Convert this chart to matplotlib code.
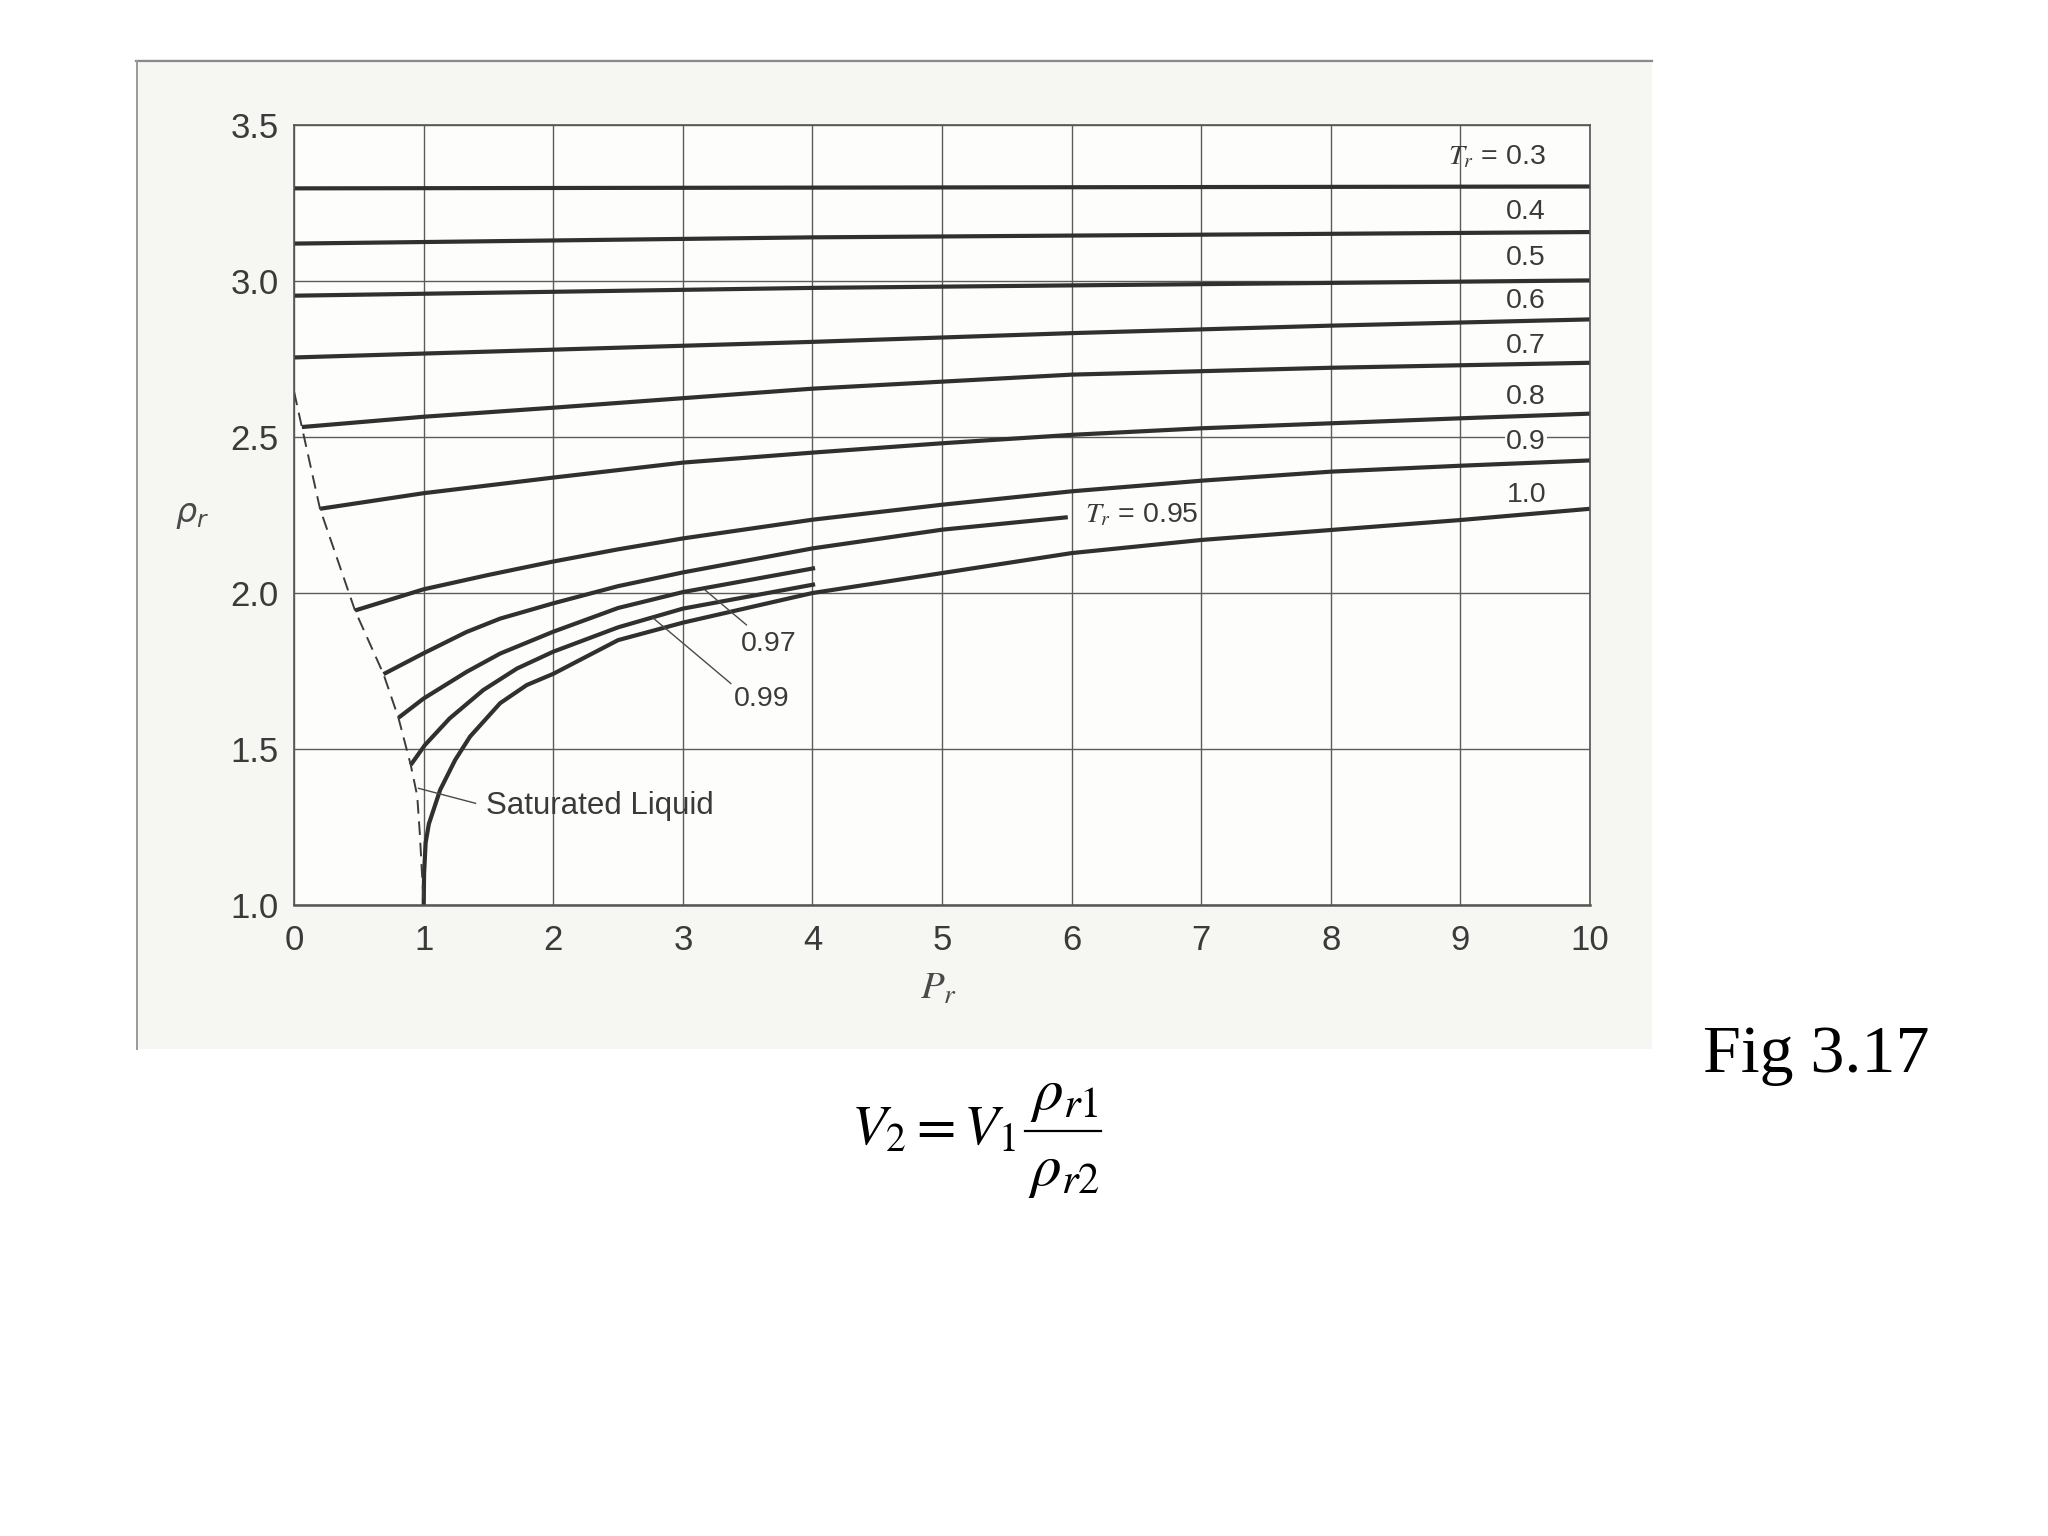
import matplotlib.pyplot as plt
from matplotlib.patches import Rectangle
from matplotlib.lines import Line2D

plt.rcParams['font.family'] = ['Liberation Sans', 'DejaVu Sans']
plt.rcParams['mathtext.fontset'] = 'dejavusans'

# reduced density vs reduced pressure, one isotherm per T_r
pr_03 = [0, 10]
rho_03 = [3.297, 3.303]
pr_04 = [0, 4, 10]
rho_04 = [3.12, 3.14, 3.157]
pr_05 = [0, 4, 10]
rho_05 = [2.953, 2.978, 3.002]
pr_06 = [0, 2, 4, 6, 8, 10]
rho_06 = [2.755, 2.78, 2.805, 2.833, 2.857, 2.877]
pr_07 = [0.06, 1, 2, 4, 6, 8, 10]
rho_07 = [2.532, 2.565, 2.594, 2.655, 2.70, 2.722, 2.738]
pr_08 = [0.2, 1, 2, 3, 4, 5, 6, 7, 8, 9, 10]
rho_08 = [2.27, 2.32, 2.37, 2.418, 2.45, 2.48, 2.507, 2.528, 2.544, 2.56, 2.575]
pr_09 = [0.47, 1, 1.5, 2, 2.5, 3, 4, 5, 6, 7, 8, 9, 10]
rho_09 = [1.944, 2.012, 2.058, 2.101, 2.14, 2.175, 2.235, 2.283, 2.326, 2.36, 2.389, 2.408, 2.425]
pr_095 = [0.69, 1, 1.33, 1.59, 2, 2.5, 3, 4, 5, 5.97]
rho_095 = [1.74, 1.807, 1.875, 1.918, 1.967, 2.022, 2.066, 2.143, 2.203, 2.243]
pr_097 = [0.805, 1, 1.33, 1.59, 2, 2.5, 3, 4.02]
rho_097 = [1.60, 1.662, 1.747, 1.806, 1.876, 1.952, 2.003, 2.08]
pr_099 = [0.9, 1.01, 1.2, 1.46, 1.72, 2, 2.5, 3, 4.02]
rho_099 = [1.449, 1.513, 1.598, 1.689, 1.758, 1.812, 1.89, 1.95, 2.028]
pr_10 = [1.0, 1.003, 1.015, 1.04, 1.127, 1.243, 1.358, 1.59, 1.795, 2, 2.5, 3, 4, 5, 6, 7, 8, 9, 10]
rho_10 = [1.0, 1.1, 1.2, 1.26, 1.369, 1.465, 1.54, 1.647, 1.705, 1.741, 1.849, 1.905, 2.0,
          2.064, 2.128, 2.17, 2.202, 2.234, 2.27]

# saturated liquid (dashed)
pr_sat = [0.0, 0.06, 0.2, 0.47, 0.69, 0.805, 0.9, 0.95, 0.97, 1.0]
rho_sat = [2.645, 2.532, 2.27, 1.944, 1.74, 1.60, 1.449, 1.35, 1.23, 1.0]

# labels at the right edge
tr_labels = ['0.4', '0.5', '0.6', '0.7', '0.8', '0.9', '1.0']
tr_label_y = [3.22, 3.074, 2.935, 2.792, 2.627, 2.484, 2.313]

curves = [(pr_03, rho_03), (pr_04, rho_04), (pr_05, rho_05), (pr_06, rho_06),
          (pr_07, rho_07), (pr_08, rho_08), (pr_09, rho_09), (pr_095, rho_095),
          (pr_097, rho_097), (pr_099, rho_099), (pr_10, rho_10)]

fig = plt.figure(figsize=(20.48, 15.36), dpi=100)
fig.patch.set_facecolor('white')

# the scanned page behind the chart
fig.patches.append(Rectangle((0.0664, 0.317), 0.7402, 0.6446, transform=fig.transFigure,
                             facecolor='#f6f6f3', edgecolor='none', zorder=-10))
fig.lines.append(Line2D([0.0664, 0.8066], [0.9603, 0.9603], transform=fig.transFigure,
                        color='#8a8a8a', lw=1.6))
fig.lines.append(Line2D([0.0669, 0.0669], [0.317, 0.9603], transform=fig.transFigure,
                        color='#9a9a9a', lw=1.4))

ax = fig.add_axes([0.1436, 0.4108, 0.6328, 0.5078])
ax.set_facecolor('#fdfdfc')
ax.set_xlim(0, 10)
ax.set_ylim(1.0, 3.5)
ax.set_xticks(range(0, 11))
ax.set_yticks([1.0, 1.5, 2.0, 2.5, 3.0, 3.5])
ax.set_yticklabels(['1.0', '1.5', '2.0', '2.5', '3.0', '3.5'])
ax.tick_params(length=0, labelsize=25, labelcolor='#3a3a3a')
ax.tick_params(axis='x', pad=14)
ax.tick_params(axis='y', pad=11)
ax.grid(True, color='#5c5c5c', lw=1.0)
ax.set_axisbelow(True)
for s in ax.spines.values():
    s.set_color('#555555')
    s.set_linewidth(1.2)
ax.spines['bottom'].set_linewidth(1.8)

for x, y in curves:
    ax.plot(x, y, color='#303030', lw=3.0, solid_capstyle='butt')

ax.plot(pr_sat, rho_sat, color='#3c3c3c', lw=1.4, linestyle=(0, (7, 4)))

# labels
lab = dict(fontsize=20.5, color='#3a3a3a')
ax.text(9.66, 3.397, r'$T_r$ = 0.3', ha='right', va='center', math_fontfamily='stix', **lab)
for t, y in zip(tr_labels, tr_label_y):
    ax.text(9.66, y, t, ha='right', va='center',
            bbox=dict(facecolor='#fdfdfc', edgecolor='none', pad=1), **lab)
ax.text(6.1, 2.25, r'$T_r$ = 0.95', ha='left', va='center', math_fontfamily='stix', **lab)

ax.plot([3.17, 3.49], [2.01, 1.898], color='#4a4a4a', lw=1.0)
ax.text(3.66, 1.835, '0.97', ha='center', va='center', **lab)
ax.plot([2.77, 3.37], [1.92, 1.71], color='#4a4a4a', lw=1.0)
ax.text(3.61, 1.66, '0.99', ha='center', va='center', **lab)
ax.plot([0.96, 1.4], [1.374, 1.326], color='#4a4a4a', lw=1.0)
ax.text(1.48, 1.318, 'Saturated Liquid', ha='left', va='center', fontsize=22.5, color='#3a3a3a')

ax.set_ylabel(r'$\rho_r$', rotation=0, fontsize=24, color='#4a4a4a', va='center', ha='center')
ax.yaxis.set_label_coords(-0.079, 0.5)
ax.set_xlabel(r'$P_r$', fontsize=28, color='#4a4a4a', math_fontfamily='stix')
ax.xaxis.set_label_coords(0.497, -0.085)

fig.text(0.887, 0.302, 'Fig 3.17', ha='center', va='baseline', fontsize=49,
         family='Liberation Serif', color='black')

# V2 = V1 * rho_r1 / rho_r2, set out like the slide
fig.text(0.496, 0.2645, r'$V_2 = V_1$', ha='right', va='center',
         fontsize=41, math_fontfamily='stix', color='black')
fig.text(0.5197, 0.2865, r'$\rho_{r1}$', ha='center', va='center',
         fontsize=44, math_fontfamily='stix', color='black')
fig.text(0.5197, 0.2375, r'$\rho_{r2}$', ha='center', va='center',
         fontsize=44, math_fontfamily='stix', color='black')
fig.lines.append(Line2D([0.5005, 0.5376], [0.2637, 0.2637], transform=fig.transFigure,
                        color='black', lw=1.6))

fig.savefig('out.png', dpi=100)
